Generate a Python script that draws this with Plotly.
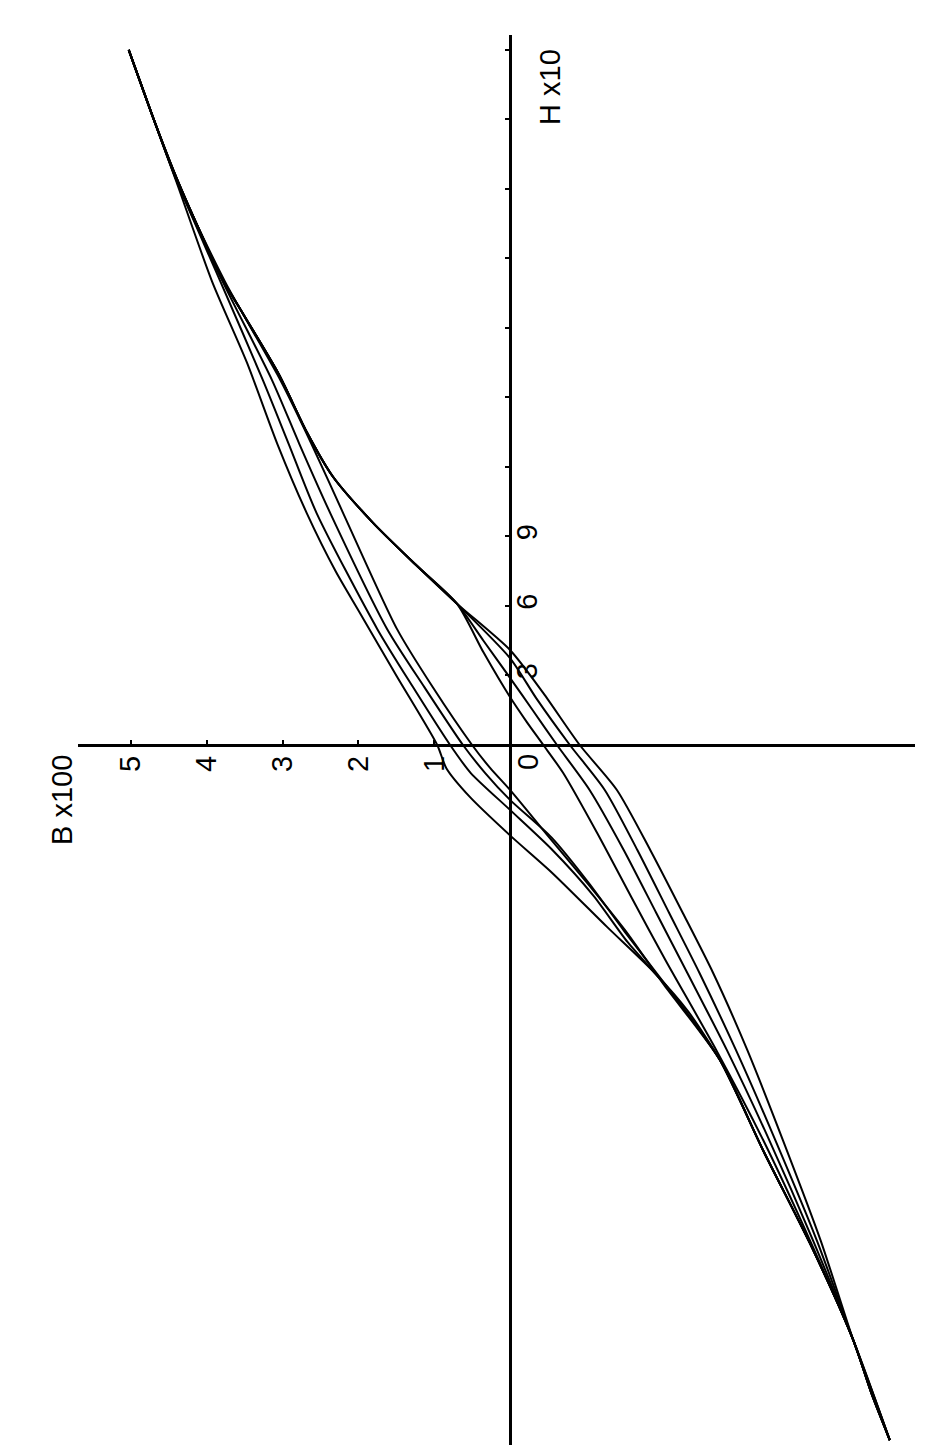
import plotly.graph_objects as go

# ---- data (B x100 vs H x10), hysteresis branches ----
# descending branches (from +tip to -tip)
D1_H = [30, 27, 24.3, 20, 16.5, 13, 10, 7.5, 5.7, 3, 0, -1, -2.24, -3.9, -5.5, -7.85, -9.84, -11.5, -13.6, -17.5, -21.8, -25.7, -28, -30]
D1_B = [5.03, 4.70, 4.40, 3.93, 3.47, 3.07, 2.68, 2.30, 1.98, 1.50, 0.96, 0.84, 0.53, 0.0, -0.55, -1.28, -1.91, -2.35, -2.77, -3.34, -4.00, -4.53, -4.77, -5.01]

D2_H = [30, 27, 24.3, 20, 15.75, 13, 10, 5, 2.5, 0, -1.2, -2.8, -4.5, -6.5, -8.5, -10.6, -13.6, -17.5, -21.8, -25.7, -28, -30]
D2_B = [5.03, 4.70, 4.39, 3.82, 3.26, 2.92, 2.55, 1.75, 1.28, 0.79, 0.52, 0.0, -0.55, -1.10, -1.55, -2.11, -2.77, -3.34, -4.00, -4.53, -4.77, -5.01]

D3_H = [30, 27, 24.3, 20, 15.75, 13, 10, 5, 2.5, 0, -1.2, -2.37, -4, -5.96, -8, -10.6, -13.6, -17.5, -21.8, -25.7, -28, -30]
D3_B = [5.03, 4.70, 4.39, 3.79, 3.14, 2.78, 2.37, 1.62, 1.13, 0.62, 0.33, 0.0, -0.55, -1.04, -1.50, -2.11, -2.77, -3.34, -4.00, -4.53, -4.77, -5.01]

D4_H = [30, 27, 24.3, 20, 15.75, 13, 10, 5, 2.5, 0, -1, -1.94, -4, -5.96, -8, -10.3, -13.6, -17.5, -21.8, -25.7, -28, -30]
D4_B = [5.03, 4.70, 4.39, 3.76, 3.03, 2.62, 2.20, 1.49, 1.02, 0.50, 0.26, 0.0, -0.52, -1.02, -1.52, -2.02, -2.77, -3.34, -4.00, -4.53, -4.77, -5.01]

# ascending branches (from -tip to +tip)
A1_H = [-30, -25.7, -21.4, -17.05, -13.16, -9.84, -7.25, -4.53, -1.94, 0, 2.24, 4.1, 6.1, 7.8, 9.6, 11.6, 13.5, 16, 18.6, 20.2, 24.4, 27, 30]
A1_B = [-5.01, -4.53, -4.10, -3.60, -3.13, -2.68, -2.28, -1.85, -1.41, -0.92, -0.44, 0.0, 0.70, 1.25, 1.81, 2.34, 2.68, 3.05, 3.52, 3.81, 4.39, 4.70, 5.03]

A2_H = [-30, -25.7, -21.4, -17.05, -13.16, -9.84, -7.25, -4.53, -1.94, 0, 2, 3.75, 6.1, 7.8, 9.6, 11.6, 13.5, 16, 18.6, 20.2, 24.4, 27, 30]
A2_B = [-5.01, -4.53, -4.05, -3.50, -2.98, -2.50, -2.10, -1.68, -1.25, -0.79, -0.35, 0.0, 0.70, 1.25, 1.81, 2.34, 2.68, 3.05, 3.52, 3.81, 4.39, 4.70, 5.03]

A3_H = [-30, -25.7, -21.4, -17.05, -13.16, -9.84, -7.25, -4.53, -1.94, 0, 1.5, 2.9, 4.5, 6.1, 7.8, 9.6, 11.6, 13.5, 16, 18.6, 20.2, 24.4, 27, 30]
A3_B = [-5.01, -4.53, -4.00, -3.42, -2.86, -2.34, -1.93, -1.50, -1.05, -0.62, -0.30, 0.0, 0.35, 0.70, 1.25, 1.81, 2.34, 2.68, 3.05, 3.52, 3.81, 4.39, 4.70, 5.03]

A4_H = [-30, -25.7, -21.4, -17.05, -13.16, -9.28, -6.56, -3.8, -1.2, 0, 1, 2.07, 4, 6.1, 7.8, 9.6, 11.6, 13.5, 16, 18.6, 20.2, 24.4, 27, 30]
A4_B = [-5.01, -4.53, -3.96, -3.34, -2.72, -2.05, -1.60, -1.15, -0.70, -0.44, -0.22, 0.0, 0.35, 0.70, 1.25, 1.81, 2.34, 2.68, 3.05, 3.52, 3.81, 4.39, 4.70, 5.03]

branches = [
    (D1_H, D1_B), (D2_H, D2_B), (D3_H, D3_B), (D4_H, D4_B),
    (A1_H, A1_B), (A2_H, A2_B), (A3_H, A3_B), (A4_H, A4_B),
]

B_ticks = [1, 2, 3, 4, 5]
B_ticklabels = ["1", "2", "3", "4", "5"]
H_ticks = [3, 6, 9, 12, 15, 18, 21, 24, 27, 30]
H_ticklabels = ["3", "6", "9", "", "", "", "", "", "", ""]

# ---- layout geometry (pixels of the 946 x 1452 page) ----
W, Hpx = 946, 1452
x0_px, y0_px = 510, 745          # origin
px_per_B, px_per_H = 75.8, 23.17
xl_px, xr_px = 78, 915           # extent of the B axis line
yt_px, yb_px = 35, 1445          # extent of the H axis line

B_left = (x0_px - xl_px) / px_per_B
B_right = (x0_px - xr_px) / px_per_B
H_top = (y0_px - yt_px) / px_per_H
H_bot = (y0_px - yb_px) / px_per_H

font_family = "Liberation Sans, Arial, Helvetica, sans-serif"

fig = go.Figure()
for h, b in branches:
    fig.add_trace(go.Scatter(
        x=b, y=h, mode="lines",
        line=dict(color="black", width=2, shape="spline", smoothing=0.7),
        showlegend=False, hoverinfo="skip",
    ))

fig.update_layout(
    width=W, height=Hpx,
    margin=dict(l=0, r=0, t=0, b=0),
    paper_bgcolor="white", plot_bgcolor="white",
    font=dict(family=font_family, size=29, color="black"),
    xaxis=dict(
        domain=[xl_px / W, xr_px / W],
        range=[B_left, B_right],
        anchor="free", position=(Hpx - y0_px) / Hpx,
        showgrid=False, showline=False,
        zeroline=True, zerolinecolor="black", zerolinewidth=2.5,
        tickmode="array", tickvals=B_ticks, ticktext=B_ticklabels,
        ticks="inside", ticklen=5, tickwidth=2, tickcolor="black",
        tickangle=-90, tickfont=dict(size=29, family=font_family),
        ticklabelstandoff=4,
    ),
    yaxis=dict(
        domain=[(Hpx - yb_px) / Hpx, (Hpx - yt_px) / Hpx],
        range=[H_bot, H_top],
        anchor="free", position=x0_px / W, side="right",
        showgrid=False, showline=False,
        zeroline=True, zerolinecolor="black", zerolinewidth=2.5,
        tickmode="array", tickvals=H_ticks, ticktext=H_ticklabels,
        ticks="inside", ticklen=5, tickwidth=2, tickcolor="black",
        tickangle=-90, tickfont=dict(size=29, family=font_family),
        ticklabelstandoff=-3,
    ),
    annotations=[
        dict(text="0", x=0, y=0, xref="x", yref="y", xshift=18, yshift=-17,
             textangle=-90, showarrow=False, font=dict(size=29)),
        dict(text="B x100", x=62 / W, y=(Hpx - 800) / Hpx, xref="paper", yref="paper",
             xanchor="center", yanchor="middle",
             textangle=-90, showarrow=False, font=dict(size=29)),
        dict(text="H x10", x=550 / W, y=(Hpx - 87) / Hpx, xref="paper", yref="paper",
             xanchor="center", yanchor="middle",
             textangle=-90, showarrow=False, font=dict(size=29)),
    ],
)

fig.write_html("out.html")
